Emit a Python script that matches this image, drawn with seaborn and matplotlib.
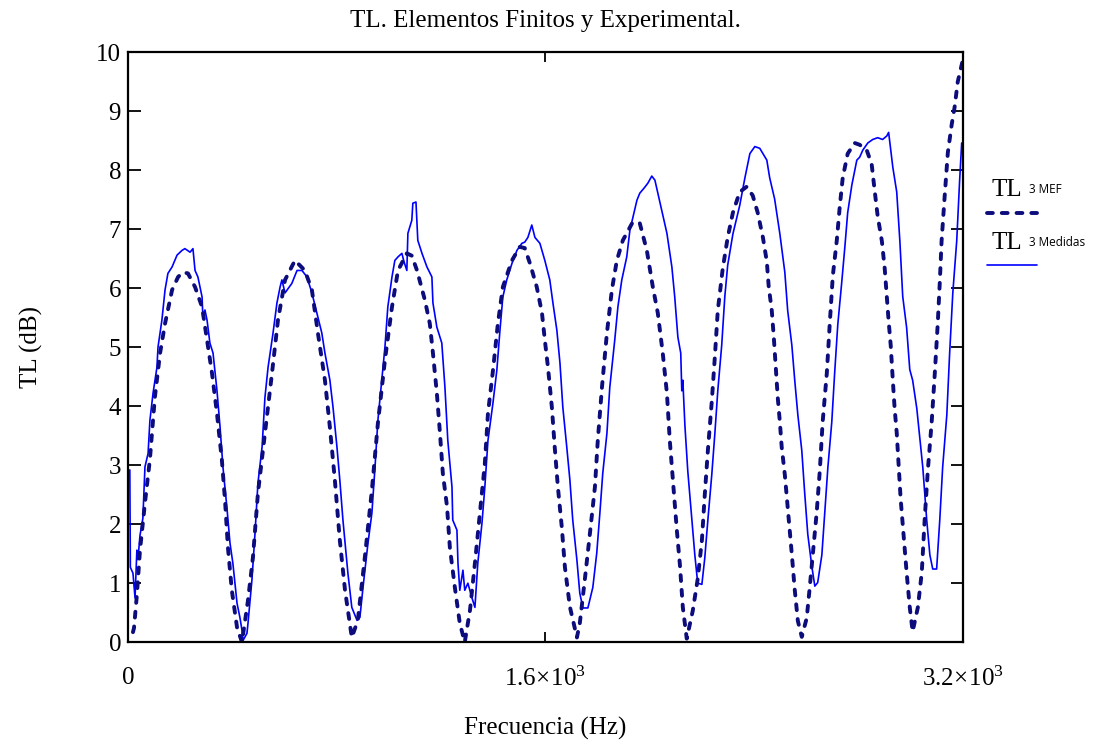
import seaborn as sns
import numpy as np
import pandas as pd
import matplotlib.pyplot as plt
from matplotlib.lines import Line2D

# TL 3 MEF (finite elements) - frequency in Hz, TL in dB
mef_freq = [19, 23, 34, 46, 65, 84, 103, 123, 142, 169, 192, 211, 230, 257, 284, 303, 322, 341, 360, 372,
            383, 398, 418, 437, 460, 479, 498, 525, 552, 575, 602, 640, 678, 705, 728, 755, 774, 793, 812, 832,
            858, 881, 908, 935, 958, 985, 1012, 1035, 1069, 1088, 1108, 1138, 1157, 1169, 1184, 1196, 1207, 1223,
            1234, 1253, 1272, 1291, 1311, 1330, 1349, 1368, 1380, 1399, 1418, 1437, 1472, 1502, 1521, 1541, 1567,
            1587, 1598, 1610, 1625, 1636, 1648, 1663, 1675, 1694, 1721, 1732, 1751, 1771, 1790, 1801, 1817, 1836,
            1855, 1874, 1897, 1935, 1962, 1989, 2012, 2031, 2050, 2066, 2077, 2089, 2104, 2116, 2127, 2142, 2165,
            2184, 2200, 2211, 2223, 2238, 2250, 2261, 2280, 2299, 2319, 2345, 2372, 2395, 2414, 2434, 2449, 2456,
            2468, 2476, 2483, 2491, 2499, 2506, 2518, 2525, 2533, 2545, 2556, 2568, 2583, 2602, 2614, 2625, 2640,
            2652, 2663, 2679, 2690, 2702, 2717, 2729, 2740, 2759, 2786, 2805, 2832, 2851, 2863, 2874, 2890, 2901,
            2909, 2916, 2924, 2932, 2939, 2947, 2955, 2962, 2974, 2985, 2997, 3008, 3028, 3043, 3054, 3066, 3081,
            3093, 3104, 3112, 3119, 3131, 3143, 3158, 3169, 3181, 3200]
mef_tl = [0.17, 0.24, 0.8, 1.56, 2.36, 3.1, 4.15, 4.9, 5.4, 5.97, 6.19, 6.27, 6.25, 6.02, 5.68, 5.12, 4.56, 3.88,
          3.08, 2.4, 1.61, 0.88, 0.25, 0.0, 0.71, 1.44, 2.52, 3.54, 4.56, 5.46, 6.14, 6.47, 6.3, 5.97, 5.24, 4.44,
          3.64, 2.75, 1.73, 0.88, 0.08, 0.37, 1.44, 2.58, 3.71, 4.78, 5.68, 6.3, 6.59, 6.55, 6.3, 5.8, 5.4, 4.9,
          4.22, 3.54, 2.86, 2.3, 1.6, 0.93, 0.32, 0.0, 0.54, 1.34, 2.19, 3.03, 3.88, 4.6, 5.4, 6.02, 6.47, 6.7,
          6.68, 6.42, 6.02, 5.58, 5.12, 4.66, 3.98, 3.3, 2.63, 1.95, 1.27, 0.6, 0.08, 0.32, 1.05, 1.85, 2.63, 3.42,
          4.32, 5.24, 5.97, 6.47, 6.81, 7.12, 7.1, 6.64, 6.02, 5.58, 4.9, 4.22, 3.42, 2.75, 1.9, 1.3, 0.59, 0.06,
          0.53, 1.07, 1.72, 2.49, 3.25, 4.08, 4.85, 5.62, 6.33, 6.86, 7.28, 7.63, 7.72, 7.57, 7.28, 6.86, 6.45,
          6.04, 5.62, 5.15, 4.67, 4.14, 3.73, 3.31, 2.84, 2.49, 2.07, 1.48, 0.89, 0.36, 0.09, 0.41, 0.95, 1.48,
          2.19, 2.9, 3.73, 4.56, 5.38, 6.21, 6.8, 7.4, 7.87, 8.28, 8.46, 8.43, 8.34, 8.1, 7.63, 7.22, 6.8, 6.33,
          5.86, 5.44, 5.03, 4.44, 3.96, 3.55, 2.96, 2.43, 1.78, 1.18, 0.59, 0.18, 0.59, 1.18, 2.07, 2.9, 3.73,
          4.56, 5.38, 6.09, 6.8, 7.57, 8.3, 8.78, 9.07, 9.5, 9.86]

# TL 3 Medidas (measured)
med_freq = [7, 9, 19, 27, 34, 38, 46, 57, 65, 77, 84, 96, 111, 115, 130, 142, 153, 169, 188, 207, 218, 238, 249,
            257, 268, 284, 287, 295, 303, 314, 326, 341, 353, 364, 379, 391, 402, 418, 429, 437, 441, 456, 460,
            475, 487, 498, 514, 525, 537, 556, 571, 583, 590, 602, 628, 648, 667, 686, 705, 724, 743, 755, 774,
            786, 801, 812, 824, 843, 858, 878, 889, 901, 920, 935, 947, 958, 973, 985, 996, 1012, 1023, 1035,
            1050, 1058, 1069, 1073, 1088, 1092, 1104, 1111, 1127, 1146, 1165, 1169, 1184, 1203, 1215, 1226, 1242,
            1245, 1261, 1265, 1272, 1284, 1291, 1303, 1318, 1330, 1341, 1357, 1368, 1380, 1399, 1414, 1426, 1437,
            1452, 1472, 1491, 1510, 1521, 1533, 1548, 1560, 1579, 1598, 1617, 1629, 1644, 1656, 1667, 1682, 1694,
            1705, 1721, 1732, 1744, 1763, 1782, 1797, 1809, 1820, 1836, 1847, 1866, 1878, 1893, 1912, 1924, 1951,
            1962, 1981, 1993, 2008, 2020, 2046, 2066, 2085, 2096, 2108, 2119, 2123, 2127, 2135, 2146, 2162, 2173,
            2184, 2200, 2211, 2223, 2238, 2250, 2261, 2276, 2288, 2299, 2319, 2345, 2365, 2384, 2403, 2422, 2449,
            2460, 2479, 2499, 2518, 2529, 2545, 2556, 2568, 2583, 2594, 2606, 2621, 2633, 2644, 2660, 2671, 2683,
            2698, 2709, 2721, 2736, 2748, 2759, 2775, 2794, 2805, 2817, 2836, 2855, 2874, 2893, 2909, 2916, 2932,
            2947, 2959, 2970, 2985, 2997, 3008, 3024, 3035, 3047, 3054, 3062, 3074, 3085, 3100, 3112, 3123, 3139,
            3150, 3162, 3177, 3188, 3196]
med_tl = [2.92, 1.27, 1.17, 0.75, 1.56, 1.4, 1.81, 2.1, 2.97, 3.2, 3.76, 4.22, 4.66, 5.0, 5.46, 5.97, 6.25, 6.36,
          6.56, 6.64, 6.67, 6.61, 6.67, 6.3, 6.19, 5.85, 5.51, 5.63, 5.46, 5.07, 4.9, 4.27, 3.64, 2.97, 2.29, 1.68,
          1.34, 0.66, 0.42, 0.2, 0.03, 0.15, 0.32, 1.05, 1.85, 2.69, 3.31, 4.15, 4.66, 5.24, 5.75, 6.02, 6.14,
          5.92, 6.08, 6.3, 6.3, 6.19, 5.92, 5.58, 5.24, 4.9, 4.44, 3.98, 3.31, 2.75, 2.07, 1.17, 0.59, 0.37, 0.42,
          0.93, 1.68, 2.19, 2.97, 3.76, 4.44, 5.0, 5.68, 6.19, 6.47, 6.53, 6.59, 6.45, 6.3, 6.93, 7.15, 7.44, 7.46,
          6.81, 6.59, 6.36, 6.19, 5.75, 5.34, 5.07, 4.32, 3.42, 2.63, 2.07, 1.9, 1.34, 0.88, 1.22, 0.88, 1.0,
          0.76, 0.59, 1.34, 2.02, 2.63, 3.42, 4.05, 4.61, 5.29, 5.85, 6.14, 6.42, 6.64, 6.76, 6.78, 6.86, 7.07,
          6.86, 6.76, 6.47, 6.14, 5.75, 5.29, 4.73, 3.98, 3.31, 2.75, 2.07, 1.39, 0.83, 0.58, 0.58, 0.93, 1.51,
          2.19, 2.86, 3.54, 4.32, 5.12, 5.68, 6.14, 6.53, 6.98, 7.49, 7.61, 7.71, 7.78, 7.9, 7.83, 7.32, 6.93,
          6.36, 5.85, 5.17, 4.9, 4.26, 4.44, 3.67, 2.9, 2.07, 1.48, 1.0, 0.98, 1.42, 2.07, 2.84, 3.55, 4.26, 5.03,
          5.86, 6.39, 6.92, 7.4, 7.87, 8.28, 8.4, 8.37, 8.17, 7.87, 7.51, 6.92, 6.27, 5.62, 5.03, 4.44, 3.85,
          3.25, 2.54, 1.83, 1.3, 0.95, 1.01, 1.48, 2.19, 2.96, 3.73, 4.56, 5.38, 6.09, 6.69, 7.28, 7.75, 8.17,
          8.22, 8.34, 8.46, 8.52, 8.55, 8.52, 8.58, 8.64, 8.05, 7.63, 6.8, 5.86, 5.33, 4.62, 4.44, 3.96, 3.49,
          2.96, 2.54, 2.07, 1.48, 1.24, 1.24, 2.07, 2.96, 3.85, 4.91, 5.92, 6.8, 7.81, 8.46]

x_ticks = [0, 1600, 3200]
x_ticklabels = [r"$0$", r"$1.6\!\times\!10^3$", r"$3.2\!\times\!10^3$"]
y_ticks = list(range(0, 11))

sns.set_theme(style="white")
plt.rcParams['font.family'] = ['Liberation Serif', 'DejaVu Serif']
plt.rcParams['mathtext.fontset'] = 'custom'
plt.rcParams['mathtext.rm'] = 'Liberation Serif'
plt.rcParams['mathtext.it'] = 'Liberation Serif'
plt.rcParams['text.color'] = 'black'
plt.rcParams['axes.labelcolor'] = 'black'

mef = pd.DataFrame({'f': mef_freq, 'tl': mef_tl})
med = pd.DataFrame({'f': med_freq, 'tl': med_tl})

fig = plt.figure(figsize=(10.94, 7.45), dpi=100)
ax = fig.add_axes([0.117, 0.138, 0.763, 0.792])

navy = '#0c0c7c'
blue = '#0000ff'
sns.lineplot(data=med, x='f', y='tl', ax=ax, color=blue, linewidth=1.2,
             sort=False, estimator=None)
sns.lineplot(data=mef, x='f', y='tl', ax=ax, color=navy, linewidth=2.8,
             linestyle=(0, (1.5, 2.3)), dash_capstyle='round',
             sort=False, estimator=None)

ax.set_xlim(0, 3200)
ax.set_ylim(0, 10)
ax.set_xticks(x_ticks)
ax.set_xticklabels(x_ticklabels)
ax.set_yticks(y_ticks)
ax.tick_params(axis='both', direction='in', colors='black', labelsize=18, width=1.3)
ax.tick_params(axis='y', length=9, pad=5, right=True, left=True)
ax.tick_params(axis='x', length=7, pad=18, top=True, bottom=True)
for sp in ax.spines.values():
    sp.set_color('black')
    sp.set_linewidth(1.6)

ax.set_xlabel('Frecuencia (Hz)', fontsize=18, labelpad=18)
ax.set_ylabel('TL (dB)', fontsize=18, labelpad=38)
ax.set_title('TL. Elementos Finitos y Experimental.', fontsize=18, pad=18)

# legend drawn by hand: label above the line sample
sans = ['Open Sans', 'DejaVu Sans']
fig.text(992 / 1094, 1 - 196 / 745, 'TL', fontsize=18, va='baseline', ha='left')
fig.text(1029 / 1094, 1 - 193 / 745, '3 MEF', fontsize=8.5, family=sans, va='baseline', ha='left')
fig.add_artist(Line2D([987 / 1094, 1037 / 1094], [1 - 213 / 745] * 2, transform=fig.transFigure,
                      color=navy, linewidth=2.8, linestyle=(0, (1.5, 2.3)), dash_capstyle='round'))
fig.text(992 / 1094, 1 - 249 / 745, 'TL', fontsize=18, va='baseline', ha='left')
fig.text(1029 / 1094, 1 - 246 / 745, '3 Medidas', fontsize=8.5, family=sans, va='baseline', ha='left')
fig.add_artist(Line2D([987 / 1094, 1037 / 1094], [1 - 265 / 745] * 2, transform=fig.transFigure,
                      color=blue, linewidth=1.2))

plt.savefig('out.png', dpi=100)
